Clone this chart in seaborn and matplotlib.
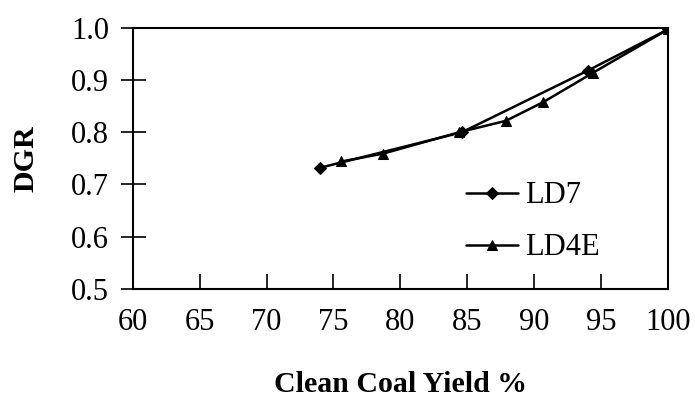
import matplotlib
matplotlib.use("Agg")
import matplotlib.pyplot as plt
import seaborn as sns
import pandas as pd

ld7_yield = [74.0, 84.6, 94.0, 100.0]
ld7_dgr = [0.732, 0.800, 0.918, 0.997]

ld4e_yield = [75.6, 78.7, 84.4, 87.9, 90.7, 94.4, 100.0]
ld4e_dgr = [0.744, 0.759, 0.800, 0.822, 0.858, 0.914, 0.997]

sns.set_style("white")
plt.rcParams["font.family"] = ["Liberation Serif", "DejaVu Serif"]
plt.rcParams["text.color"] = "black"

df7 = pd.DataFrame({"yield": ld7_yield, "dgr": ld7_dgr})
df4 = pd.DataFrame({"yield": ld4e_yield, "dgr": ld4e_dgr})

fig = plt.figure(figsize=(6.95, 4.04), dpi=100)
ax = fig.add_axes([0.191, 0.285, 0.770, 0.646])

sns.lineplot(data=df7, x="yield", y="dgr", ax=ax, color="black", marker="D",
             markersize=6, linewidth=1.8, label="LD7", markeredgecolor="black")
sns.lineplot(data=df4, x="yield", y="dgr", ax=ax, color="black", marker="^",
             markersize=7, linewidth=1.8, label="LD4E", markeredgecolor="black")

ax.set_xlim(60, 100)
ax.set_ylim(0.5, 1.0)
ax.set_xticks(range(60, 101, 5))
ax.set_yticks([0.5, 0.6, 0.7, 0.8, 0.9, 1.0])
ax.set_yticklabels(["0.5", "0.6", "0.7", "0.8", "0.9", "1.0"])

for s in ax.spines.values():
    s.set_color("black")
    s.set_linewidth(1.5)

ax.tick_params(axis="x", bottom=True, direction="in", length=11, width=1.2,
               labelsize=22, pad=14, colors="black")
ax.tick_params(axis="y", left=True, direction="inout", length=18, width=1.2,
               labelsize=22, pad=8, colors="black")

ax.set_xlabel("Clean Coal Yield %", fontsize=21.5, fontweight="bold", labelpad=24,
              color="black")
ax.set_ylabel("DGR", fontsize=21.5, fontweight="bold", labelpad=23, color="black")

ax.legend(loc="center left", bbox_to_anchor=(0.622, 0.257), frameon=False,
          fontsize=22, handlelength=1.7, handletextpad=0.26, labelspacing=0.75,
          borderaxespad=0, borderpad=0)

fig.savefig("out.png", dpi=100)
